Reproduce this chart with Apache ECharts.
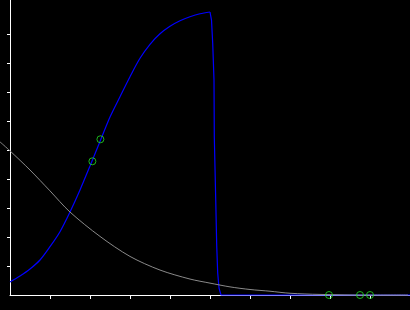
<!DOCTYPE html>
<html>
<head>
<meta charset="utf-8">
<script src="https://cdn.jsdelivr.net/npm/echarts@6/dist/echarts.min.js"></script>
<style>
html,body{margin:0;padding:0;background:#000;}
#c{width:410px;height:310px;}
</style>
</head>
<body>
<div id="c"></div>
<script>
// Blue curve (x, y) in axis units
const blueX = [0, 0.25, 0.5, 0.75, 1.0, 1.25, 1.5, 1.75, 2.0, 2.25, 2.5, 2.75, 3.0, 3.25, 3.5, 3.75, 4.0, 4.25, 4.5, 4.75, 5.0];
const blueY = [0.448, 0.655, 0.897, 1.207, 1.666, 2.183, 2.862, 3.621, 4.448, 5.293, 6.138, 6.838, 7.528, 8.162, 8.645, 9.007, 9.266, 9.455, 9.593, 9.697, 9.759];
// Blue drop (continuation of the blue curve)
const dropX = [5.0, 5.0375, 5.0675, 5.1, 5.1075, 5.1425, 5.1675, 5.1925, 5.225, 5.275, 10];
const dropY = [9.759, 9.48, 8.69, 7.41, 5.45, 3.34, 1.72, 0.76, 0.24, 0, 0];
// Gray curve
const grayX = [-0.25, 0, 0.5, 1.0, 1.5, 2.25, 3.0, 3.75, 4.5, 5.0, 5.5, 6.0, 6.5, 7.0, 7.75, 9.0, 9.95];
const grayY = [5.28, 4.97, 4.31, 3.59, 2.86, 2.02, 1.33, 0.86, 0.55, 0.41, 0.28, 0.19, 0.13, 0.06, 0.02, 0, 0];
// Marker points
const markX = [2.06, 2.26, 7.975, 8.75, 9.0];
const markY = [4.61, 5.37, 0, 0, 0];
// Tick values
const xTicks = [1, 2, 3, 4, 5, 6, 7, 8, 9];
const yTicks = [1, 2, 3, 4, 5, 6, 7, 8, 9];

const zip = (a, b) => a.map((v, i) => [v, b[i]]);
const yMax = 295 / 29;

const chart = echarts.init(document.getElementById('c'), null, {renderer: 'canvas'});
chart.setOption({
  backgroundColor: '#000',
  animation: false,
  grid: [
    {left: 10, right: 0, top: 0, bottom: 15, containLabel: false},
    {left: 0, right: 0, top: 0, bottom: 15, containLabel: false}
  ],
  xAxis: [{
    type: 'value', min: 0, max: 10, gridIndex: 0,
    splitLine: {show: false},
    axisLine: {show: true, onZero: false, lineStyle: {color: '#fff', width: 1}},
    axisTick: {show: true, inside: false, length: 4, customValues: xTicks, lineStyle: {color: '#fff', width: 1}},
    axisLabel: {show: false}
  }, {
    type: 'value', min: -0.25, max: 10, gridIndex: 1, show: false
  }],
  yAxis: [{
    type: 'value', min: 0, max: yMax, gridIndex: 0,
    splitLine: {show: false},
    axisLine: {show: true, onZero: false, lineStyle: {color: '#fff', width: 1}},
    axisTick: {show: true, inside: false, length: 3, customValues: yTicks, lineStyle: {color: '#fff', width: 1}},
    axisLabel: {show: false}
  }, {
    type: 'value', min: 0, max: yMax, gridIndex: 1, show: false
  }],
  series: [
    {
      type: 'line', data: zip(blueX, blueY), showSymbol: false, symbol: 'none',
      lineStyle: {color: '#0000ff', width: 1.2}, smooth: 0.3, clip: false, z: 2
    },
    {
      type: 'line', data: zip(dropX, dropY), showSymbol: false, symbol: 'none',
      lineStyle: {color: '#0000ff', width: 1.2}, smooth: false, clip: false, z: 2
    },
    {
      type: 'line', data: zip(grayX, grayY), xAxisIndex: 1, yAxisIndex: 1, showSymbol: false, symbol: 'none',
      lineStyle: {color: '#8a8a8a', width: 1}, smooth: 0.3, clip: false, z: 3
    },
    {
      type: 'scatter', data: zip(markX, markY), symbol: 'circle', symbolSize: 7,
      itemStyle: {color: 'rgba(0,0,0,0)', borderColor: '#22e022', borderWidth: 1},
      clip: false, z: 4
    }
  ]
});
</script>
</body>
</html>
